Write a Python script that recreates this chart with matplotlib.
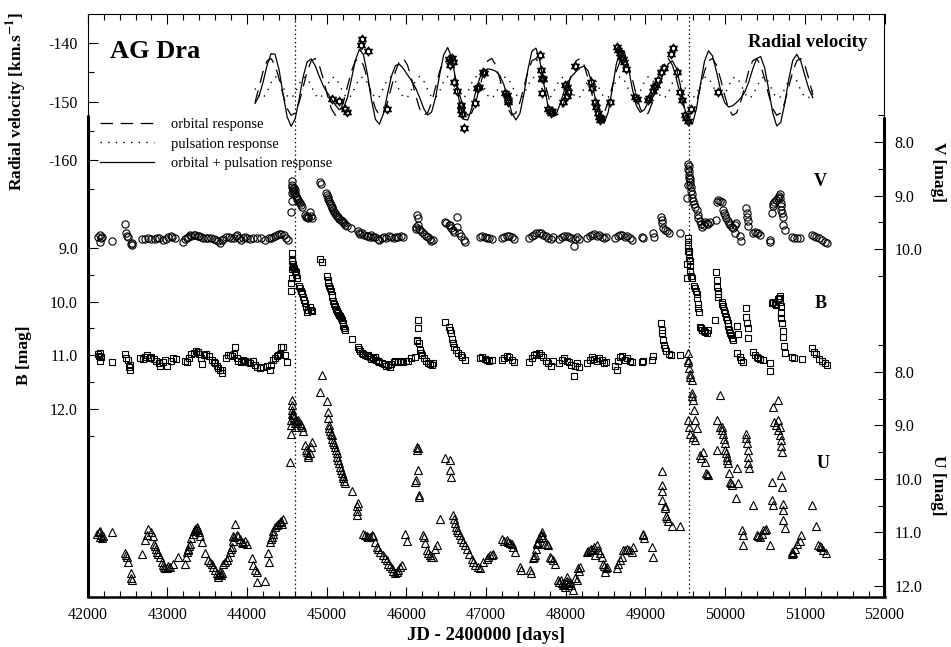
import matplotlib
matplotlib.use("Agg")
import matplotlib.pyplot as plt
from matplotlib.path import Path
from matplotlib.ticker import FixedLocator, FormatStrFormatter, MultipleLocator

plt.rcParams['font.family'] = ['Liberation Serif', 'DejaVu Serif']
plt.rcParams['mathtext.fontset'] = 'stix'
plt.rcParams['axes.unicode_minus'] = False
plt.rcParams['lines.scale_dashes'] = False

# ---------------- data ----------------
outburst_jd = [44600, 49550]

rv_model_jd = [44100.0, 44150.4, 44200.7, 44251.1, 44301.5, 44351.8, 44402.2, 44452.5, 44502.9, 44553.3,
               44603.6, 44654.0, 44704.4, 44754.7, 44805.1, 44855.5, 44905.8, 44956.2, 45006.5, 45056.9,
               45107.3, 45157.6, 45208.0, 45258.4, 45308.7, 45359.1, 45409.5, 45459.8, 45510.2, 45560.5,
               45610.9, 45661.3, 45711.6, 45762.0, 45812.4, 45862.7, 45913.1, 45963.5, 46013.8, 46064.2,
               46114.5, 46164.9, 46215.3, 46265.6, 46316.0, 46366.4, 46416.7, 46467.1, 46517.5, 46567.8,
               46618.2, 46668.5, 46718.9, 46769.3, 46819.6, 46870.0, 46920.4, 46970.7, 47021.1, 47071.5,
               47121.8, 47172.2, 47222.5, 47272.9, 47323.3, 47373.6, 47424.0, 47474.4, 47524.7, 47575.1,
               47625.5, 47675.8, 47726.2, 47776.5, 47826.9, 47877.3, 47927.6, 47978.0, 48028.4, 48078.7,
               48129.1, 48179.5, 48229.8, 48280.2, 48330.5, 48380.9, 48431.3, 48481.6, 48532.0, 48582.4,
               48632.7, 48683.1, 48733.5, 48783.8, 48834.2, 48884.5, 48934.9, 48985.3, 49035.6, 49086.0,
               49136.4, 49186.7, 49237.1, 49287.5, 49337.8, 49388.2, 49438.5, 49488.9, 49539.3, 49589.6,
               49640.0, 49690.4, 49740.7, 49791.1, 49841.5, 49891.8, 49942.2, 49992.5, 50042.9, 50093.3,
               50143.6, 50194.0, 50244.4, 50294.7, 50345.1, 50395.5, 50445.8, 50496.2, 50546.5, 50596.9,
               50647.3, 50697.6, 50748.0, 50798.4, 50848.7, 50899.1, 50949.5, 50999.8, 51050.2, 51100.5]

rv_orbital = [-150.15, -147.51, -144.86, -143.05, -142.65, -143.79, -146.11, -148.87, -151.20, -152.35, -151.96,
              -150.15, -147.51, -144.86, -143.05, -142.65, -143.79, -146.11, -148.87, -151.20, -152.35, -151.96,
              -150.15, -147.51, -144.86, -143.05, -142.65, -143.79, -146.11, -148.87, -151.20, -152.35, -151.96,
              -150.15, -147.51, -144.86, -143.05, -142.65, -143.79, -146.11, -148.87, -151.20, -152.35, -151.96,
              -150.15, -147.51, -144.86, -143.05, -142.65, -143.79, -146.11, -148.87, -151.20, -152.35, -151.96,
              -150.15, -147.51, -144.86, -143.05, -142.65, -143.79, -146.11, -148.87, -151.20, -152.35, -151.96,
              -150.15, -147.51, -144.86, -143.05, -142.65, -143.79, -146.11, -148.87, -151.20, -152.35, -151.96,
              -150.15, -147.51, -144.86, -143.05, -142.65, -143.79, -146.11, -148.87, -151.20, -152.35, -151.96,
              -150.15, -147.51, -144.86, -143.05, -142.65, -143.79, -146.11, -148.87, -151.20, -152.35, -151.96,
              -150.15, -147.51, -144.86, -143.05, -142.65, -143.79, -146.11, -148.87, -151.20, -152.35, -151.96,
              -150.15, -147.51, -144.86, -143.05, -142.65, -143.79, -146.11, -148.87, -151.20, -152.35, -151.96,
              -150.15, -147.51, -144.86, -143.05, -142.65, -143.79, -146.11, -148.87, -151.20, -152.35, -151.96,
              -150.15, -147.51, -144.86, -143.05, -142.65, -143.79, -146.11, -148.87]

rv_pulsation = [-147.77, -149.16, -149.43, -148.37, -146.75, -145.75, -146.09, -147.52, -149.01, -149.48,
                -148.59, -146.98, -145.82, -145.95, -147.27, -148.83, -149.50, -148.79, -147.22, -145.92,
                -145.84, -147.03, -148.63, -149.49, -148.97, -147.46, -146.05, -145.76, -146.80, -148.42,
                -149.44, -149.13, -147.71, -146.21, -145.72, -146.59, -148.19, -149.37, -149.26, -147.96,
                -146.39, -145.70, -146.39, -147.95, -149.26, -149.37, -148.20, -146.59, -145.72, -146.21,
                -147.71, -149.13, -149.44, -148.42, -146.81, -145.76, -146.05, -147.46, -148.97, -149.49,
                -148.64, -147.04, -145.84, -145.92, -147.21, -148.79, -149.50, -148.84, -147.28, -145.95,
                -145.82, -146.98, -148.58, -149.48, -149.01, -147.52, -146.09, -145.75, -146.75, -148.36,
                -149.43, -149.17, -147.77, -146.25, -145.71, -146.54, -148.13, -149.34, -149.29, -148.02,
                -146.44, -145.70, -146.34, -147.89, -149.23, -149.39, -148.25, -146.64, -145.73, -146.17,
                -147.65, -149.09, -149.46, -148.48, -146.86, -145.78, -146.02, -147.40, -148.93, -149.49,
                -148.69, -147.10, -145.87, -145.89, -147.15, -148.74, -149.50, -148.88, -147.34, -145.98,
                -145.80, -146.92, -148.53, -149.47, -149.05, -147.58, -146.13, -145.74, -146.69, -148.31,
                -149.41, -149.20, -147.83, -146.30, -145.70, -146.49, -148.07, -149.32, -149.32, -148.07]

rv_total = [-150.32, -149.07, -146.69, -143.82, -141.80, -141.94, -144.60, -148.79, -152.61, -154.23,
            -152.95, -149.53, -145.73, -143.21, -142.72, -143.88, -145.69, -147.30, -148.49, -149.52,
            -150.59, -151.39, -151.18, -149.40, -146.23, -142.91, -141.10, -141.95, -145.31, -149.69,
            -153.04, -153.88, -152.07, -148.76, -145.63, -143.85, -143.64, -144.42, -145.45, -146.47,
            -147.66, -149.30, -151.14, -152.31, -151.81, -149.28, -145.46, -142.04, -140.77, -142.40,
            -146.22, -150.40, -153.04, -153.17, -151.17, -148.31, -145.96, -144.72, -144.42, -144.54,
            -144.83, -145.55, -147.11, -149.52, -151.96, -153.15, -152.05, -148.75, -144.54, -141.40,
            -140.87, -143.17, -147.09, -150.75, -152.61, -152.27, -150.45, -148.30, -146.66, -145.62,
            -144.88, -144.22, -143.96, -144.76, -146.98, -150.14, -152.88, -153.70, -151.84, -147.93,
            -143.70, -141.15, -141.39, -144.08, -147.74, -150.66, -151.85, -151.39, -150.09, -148.72,
            -147.56, -146.35, -144.91, -143.53, -143.05, -144.29, -147.29, -151.00, -153.68, -153.85,
            -151.24, -147.01, -143.13, -141.34, -142.20, -144.93, -148.01, -150.15, -150.94, -150.73,
            -150.16, -149.47, -148.44, -146.73, -144.50, -142.63, -142.32, -144.25, -147.96, -151.91,
            -154.16, -153.56, -150.38, -146.21, -142.96, -141.94, -143.12, -145.51, -147.83, -149.34]

RV_OBS = [(45069, -149.6), (45157, -149.9), (45228, -151.2), (45250, -151.8),
          (45426, -140.3), (45438, -139.3), (45521, -141.3), (45752, -151.3),
          (46533, -142.8), (46545, -143.8), (46567, -142.6), (46587, -143.2), (46600, -146.6), (46630, -148.2),
          (46684, -150.6), (46688, -151.5), (46692, -152.1), (46720, -154.6),
          (46859, -150.2), (46880, -147.7), (46910, -147.5), (46964, -144.9), (46976, -145.2),
          (47236, -148.6), (47257, -148.9), (47270, -150.0), (47277, -149.7),
          (47675, -142.1), (47688, -144.6), (47704, -146.0), (47716, -146.2), (47697, -148.5),
          (47771, -151.3), (47800, -151.7), (47821, -151.6), (47810, -152.0),
          (47968, -150.0), (47989, -147.2), (48010, -147.5), (48030, -148.3), (48020, -149.0),
          (48114, -143.9), (48315, -146.6), (48331, -147.7), (48365, -150.0), (48385, -151.0),
          (48405, -152.0), (48420, -152.6), (48435, -153.2), (48445, -152.9), (48553, -150.0),
          (48637, -140.6), (48660, -141.2), (48675, -141.7), (48695, -142.4), (48715, -142.8),
          (48735, -143.3), (48760, -144.5), (48867, -149.2), (48888, -149.6),
          (49026, -149.7), (49045, -149.4), (49090, -148.2), (49110, -147.6), (49130, -147.2),
          (49160, -146.3), (49195, -144.9), (49235, -144.2), (49319, -141.8), (49348, -140.9),
          (49390, -144.9), (49431, -148.3), (49453, -149.7), (49494, -152.3), (49515, -152.9),
          (49535, -153.3), (49570, -151.2), (49912, -148.3)]

V_OBS = [(42130, 9.78), (42150, 9.74), (42160, 9.86), (42170, 9.80), (42180, 9.77), (42300, 9.85),
         (42470, 9.53), (42475, 9.70), (42490, 9.75), (42510, 9.78), (42545, 9.90), (42550, 9.92), (42555, 9.88),
         (42680, 9.82), (42720, 9.81), (42760, 9.80), (42800, 9.82), (42840, 9.81), (42870, 9.79), (42900, 9.80),
         (42940, 9.83), (42980, 9.81), (43010, 9.78), (43040, 9.76), (43060, 9.78), (43100, 9.80), (43200, 9.87),
         (43220, 9.82), (43240, 9.80), (43260, 9.77), (43280, 9.74), (43300, 9.75), (43330, 9.73), (43350, 9.74),
         (43380, 9.76), (43400, 9.75), (43420, 9.78), (43450, 9.80), (43480, 9.79), (43510, 9.80), (43550, 9.79),
         (43580, 9.81), (43610, 9.83), (43640, 9.85), (43660, 9.88), (43680, 9.84), (43700, 9.81), (43740, 9.78),
         (43770, 9.77), (43800, 9.80), (43830, 9.79), (43860, 9.76), (43880, 9.74), (43900, 9.79), (43920, 9.83),
         (43950, 9.80), (43980, 9.77), (44000, 9.79), (44040, 9.82), (44080, 9.80), (44130, 9.79), (44180, 9.80),
         (44230, 9.83), (44270, 9.80), (44300, 9.79), (44320, 9.77), (44350, 9.75), (44380, 9.73), (44400, 9.72),
         (44430, 9.72), (44460, 9.73), (44490, 9.80), (44510, 9.84),
         (44555, 9.30), (44558, 9.10), (44560, 8.95), (44562, 8.85), (44565, 8.72), (44570, 8.80), (44575, 8.88),
         (44580, 8.92), (44585, 8.98), (44590, 8.86), (44600, 8.90), (44605, 8.96), (44612, 9.00), (44622, 9.05),
         (44632, 9.06), (44643, 9.09), (44655, 9.12), (44664, 9.14), (44675, 9.18), (44685, 9.21), (44726, 9.36),
         (44740, 9.40), (44747, 9.38), (44760, 9.42), (44768, 9.40), (44789, 9.30), (44800, 9.38), (44810, 9.42),
         (44915, 8.74), (44925, 8.78),
         (44990, 8.95), (45000, 8.99), (45010, 9.03), (45020, 9.06), (45030, 9.10), (45040, 9.14), (45050, 9.18),
         (45060, 9.21), (45070, 9.24), (45080, 9.27), (45090, 9.30), (45100, 9.33), (45115, 9.36), (45130, 9.39),
         (45145, 9.41), (45160, 9.44), (45175, 9.46), (45190, 9.48), (45205, 9.50), (45220, 9.52), (45235, 9.55),
         (45250, 9.57), (45310, 9.60),
         (45390, 9.66), (45400, 9.70), (45420, 9.72), (45440, 9.70), (45470, 9.74), (45500, 9.76), (45520, 9.75),
         (45545, 9.78), (45560, 9.74), (45580, 9.77), (45610, 9.78), (45640, 9.82), (45660, 9.83), (45690, 9.80),
         (45720, 9.78), (45750, 9.79), (45780, 9.76), (45810, 9.77), (45840, 9.80), (45870, 9.78), (45900, 9.77),
         (45930, 9.76), (45960, 9.78),
         (46115, 9.62), (46125, 9.58), (46130, 9.36), (46140, 9.42), (46150, 9.55), (46160, 9.62), (46175, 9.65),
         (46195, 9.68), (46215, 9.72), (46240, 9.76), (46265, 9.78), (46290, 9.82), (46310, 9.85), (46330, 9.83),
         (46483, 9.49), (46500, 9.52), (46530, 9.56), (46545, 9.55), (46560, 9.60), (46580, 9.64), (46600, 9.68),
         (46630, 9.40), (46640, 9.58), (46660, 9.70), (46690, 9.76), (46720, 9.83), (46740, 9.86),
         (46920, 9.78), (46950, 9.76), (46980, 9.77), (47010, 9.79), (47040, 9.80), (47070, 9.82),
         (47200, 9.80), (47230, 9.77), (47260, 9.76), (47290, 9.75), (47320, 9.78), (47350, 9.82),
         (47540, 9.80), (47570, 9.76), (47600, 9.73), (47630, 9.71), (47660, 9.70), (47690, 9.71), (47720, 9.73),
         (47750, 9.76), (47780, 9.79), (47810, 9.81), (47840, 9.78),
         (47920, 9.82), (47950, 9.78), (47980, 9.76), (48010, 9.75), (48040, 9.78), (48070, 9.80), (48100, 9.95),
         (48110, 9.82), (48140, 9.78), (48170, 9.82),
         (48270, 9.80), (48300, 9.76), (48330, 9.74), (48360, 9.72), (48390, 9.75), (48420, 9.74), (48450, 9.77),
         (48480, 9.80), (48510, 9.78),
         (48620, 9.80), (48650, 9.76), (48680, 9.73), (48710, 9.74), (48740, 9.78), (48770, 9.76), (48800, 9.80),
         (48830, 9.84), (48960, 9.78), (48975, 9.80), (49100, 9.70), (49110, 9.78),
         (49200, 9.40), (49205, 9.46), (49210, 9.52), (49220, 9.60), (49240, 9.64), (49265, 9.67), (49290, 9.70),
         (49430, 9.70),
         (49525, 9.05), (49530, 8.80), (49535, 8.50), (49538, 8.42), (49542, 8.45), (49545, 8.55), (49548, 8.62),
         (49550, 8.68), (49555, 8.75), (49560, 8.80), (49565, 8.70), (49570, 8.85), (49575, 8.92), (49580, 8.98),
         (49590, 9.05), (49600, 9.10),
         (49610, 9.15), (49625, 9.22), (49641, 9.28), (49655, 9.36), (49662, 9.42), (49680, 9.48), (49700, 9.53),
         (49715, 9.58), (49730, 9.55), (49746, 9.50), (49770, 9.52), (49790, 9.53), (49809, 9.50),
         (49892, 9.13), (49913, 9.08), (49935, 9.10), (49955, 9.12), (49880, 9.46),
         (49976, 9.27), (49990, 9.32), (50000, 9.37), (50015, 9.42), (50030, 9.47), (50045, 9.52), (50060, 9.56),
         (50080, 9.58), (50100, 9.60), (50120, 9.55), (50140, 9.52), (50130, 9.70), (50186, 9.75), (50200, 9.85),
         (50260, 9.24), (50270, 9.32), (50278, 9.40), (50285, 9.48), (50290, 9.57),
         (50352, 9.71), (50370, 9.69), (50395, 9.70), (50415, 9.71), (50440, 9.73), (50560, 9.86), (50565, 9.83),
         (50582, 9.33), (50595, 9.20), (50603, 9.16), (50615, 9.13), (50640, 9.08), (50660, 9.04), (50670, 9.00),
         (50685, 8.98), (50690, 9.05), (50695, 9.14), (50700, 9.20), (50707, 9.27), (50712, 9.33), (50720, 9.40),
         (50730, 9.55), (50745, 9.64),
         (50833, 9.77), (50860, 9.79), (50900, 9.79), (50935, 9.80),
         (51084, 9.74), (51110, 9.75), (51140, 9.77), (51175, 9.80), (51220, 9.83), (51255, 9.86), (51275, 9.89)]

B_OBS = [(42130, 10.98), (42140, 11.02), (42150, 10.96), (42160, 11.10), (42170, 11.03), (42300, 11.12),
         (42470, 10.98), (42480, 11.05), (42500, 11.08), (42520, 11.22), (42530, 11.27), (42535, 11.18),
         (42660, 11.05), (42690, 11.06), (42720, 11.04), (42750, 11.00), (42780, 11.05), (42800, 11.04),
         (42830, 11.06), (42860, 11.10), (42890, 11.14), (42910, 11.20), (42940, 11.12), (42970, 11.08),
         (43000, 11.20), (43040, 11.10), (43070, 11.05), (43110, 11.06),
         (43220, 11.10), (43245, 11.12), (43270, 11.05), (43300, 10.97), (43330, 10.95), (43355, 10.92),
         (43380, 10.94), (43400, 10.98), (43420, 11.05), (43440, 11.16), (43460, 10.99), (43490, 10.98),
         (43520, 11.02), (43560, 11.08), (43580, 11.12), (43600, 11.15), (43620, 11.20), (43640, 11.24),
         (43660, 11.28), (43680, 11.32), (43690, 11.27),
         (43730, 11.05), (43760, 11.00), (43785, 10.99), (43810, 11.02), (43830, 10.98), (43848, 10.84),
         (43870, 11.05), (43890, 11.10), (43920, 11.12), (43950, 11.08), (43980, 11.10), (44010, 11.12),
         (44040, 11.15), (44073, 11.11), (44100, 11.18), (44130, 11.22), (44160, 11.24), (44200, 11.22),
         (44246, 11.20), (44288, 11.28), (44300, 11.18),
         (44327, 11.08), (44350, 11.05), (44370, 11.02), (44390, 10.99), (44410, 10.97), (44432, 10.84),
         (44453, 10.84), (44470, 11.00), (44495, 11.12),
         (44552, 9.80), (44555, 9.65), (44558, 9.55), (44560, 9.40), (44562, 9.22), (44565, 9.10), (44570, 9.25),
         (44575, 9.30), (44580, 9.36), (44590, 9.38), (44600, 9.42), (44610, 9.45), (44620, 9.50), (44630, 9.55),
         (44655, 9.70), (44664, 9.74), (44675, 9.80), (44685, 9.84), (44700, 9.92), (44715, 9.96), (44726, 10.02),
         (44740, 10.10), (44747, 10.20), (44760, 10.16), (44789, 10.10), (44800, 10.15), (44810, 10.18),
         (44915, 9.20), (44935, 9.26),
         (44999, 9.53), (45010, 9.60), (45020, 9.66), (45030, 9.70), (45041, 9.75), (45050, 9.80), (45062, 9.87),
         (45070, 9.92), (45083, 9.99), (45095, 10.04), (45104, 10.08), (45115, 10.13), (45125, 10.18),
         (45140, 10.22), (45155, 10.25), (45166, 10.27), (45180, 10.31), (45187, 10.34), (45200, 10.40),
         (45208, 10.45), (45220, 10.50), (45229, 10.53), (45313, 10.70),
         (45396, 10.84), (45410, 10.88), (45420, 10.92), (45440, 10.96), (45460, 10.98), (45480, 11.00),
         (45500, 11.02), (45520, 11.00), (45540, 11.04), (45560, 11.06), (45580, 11.05), (45600, 11.03),
         (45620, 11.08), (45640, 11.10), (45660, 11.12), (45690, 11.15), (45720, 11.17), (45750, 11.20),
         (45768, 11.18), (45790, 11.22), (45810, 11.16), (45840, 11.12), (45860, 11.10), (45900, 11.12),
         (45930, 11.10), (45960, 11.12), (45990, 11.11), (46019, 11.10), (46060, 11.05), (46103, 11.03),
         (46130, 10.74), (46138, 10.72), (46145, 10.34), (46150, 10.49), (46160, 10.77), (46175, 10.90),
         (46185, 10.96), (46200, 10.99), (46225, 11.05), (46250, 11.10), (46275, 11.14), (46300, 11.17),
         (46320, 11.18), (46336, 11.15),
         (46483, 10.37), (46530, 10.48), (46546, 10.52), (46556, 10.58), (46570, 10.70), (46585, 10.77),
         (46600, 10.84), (46620, 10.90), (46650, 10.96), (46680, 11.00), (46700, 11.04), (46734, 11.09),
         (46920, 11.05), (46950, 11.04), (46980, 11.06), (47010, 11.08), (47040, 11.10), (47070, 11.08),
         (47200, 11.08), (47230, 11.05), (47260, 11.02), (47290, 11.04), (47320, 11.08), (47350, 11.12),
         (47540, 11.12), (47570, 11.05), (47600, 11.00), (47630, 10.97), (47660, 10.96), (47690, 10.99),
         (47720, 11.04), (47750, 11.10), (47780, 11.15), (47810, 11.20), (47840, 11.10),
         (47920, 11.15), (47950, 11.08), (47980, 11.05), (48010, 11.10), (48040, 11.12), (48070, 11.18),
         (48100, 11.38), (48110, 11.20), (48140, 11.15), (48170, 11.22),
         (48270, 11.15), (48300, 11.08), (48330, 11.04), (48360, 11.06), (48390, 11.10), (48420, 11.05),
         (48450, 11.08), (48480, 11.15), (48510, 11.12),
         (48620, 11.20), (48640, 11.27), (48650, 11.10), (48680, 11.04), (48710, 11.02), (48740, 11.08),
         (48770, 11.05), (48800, 11.10), (48830, 11.12), (48960, 11.12), (48975, 11.10), (49080, 11.08),
         (49100, 11.02),
         (49200, 10.40), (49202, 10.52), (49205, 10.58), (49215, 10.72), (49230, 10.80), (49245, 10.86),
         (49260, 10.92), (49290, 10.98), (49320, 11.00), (49432, 10.99),
         (49516, 9.55), (49525, 9.30), (49530, 9.05), (49535, 8.82), (49538, 8.88), (49540, 8.97), (49545, 9.06),
         (49548, 9.12), (49550, 9.19), (49555, 9.25), (49558, 9.34), (49565, 9.43), (49575, 9.52), (49580, 9.55),
         (49610, 9.70), (49620, 9.74), (49630, 9.80), (49641, 9.86), (49650, 9.93), (49655, 10.05), (49662, 10.12),
         (49668, 10.20),
         (49683, 10.47), (49700, 10.50), (49715, 10.53), (49730, 10.55), (49750, 10.56), (49767, 10.58),
         (49780, 10.52), (49871, 10.34),
         (49890, 9.44), (49895, 9.60), (49900, 9.72), (49905, 9.80), (49910, 9.85), (49915, 9.91),
         (49955, 10.00), (49965, 10.05), (49976, 10.09), (49985, 10.15), (49997, 10.21), (50008, 10.28),
         (50018, 10.34), (50030, 10.40), (50039, 10.46), (50050, 10.52), (50060, 10.58), (50070, 10.62),
         (50080, 10.68), (50100, 10.71), (50143, 10.46), (50160, 10.60),
         (50145, 10.96), (50185, 11.03), (50205, 11.08), (50225, 11.12),
         (50260, 10.12), (50268, 10.28), (50278, 10.40), (50283, 10.49), (50292, 10.68),
         (50352, 10.94), (50370, 11.00), (50395, 11.03), (50415, 11.05), (50440, 11.06), (50470, 11.08),
         (50560, 11.15), (50565, 11.30),
         (50582, 10.03), (50600, 10.00), (50620, 10.04), (50640, 10.06), (50660, 9.95), (50670, 9.93),
         (50685, 9.90), (50690, 10.00), (50695, 10.09), (50700, 10.21), (50706, 10.30), (50710, 10.40),
         (50720, 10.55), (50728, 10.65), (50735, 10.83), (50745, 10.96),
         (50833, 11.03), (50870, 11.05), (50960, 11.06),
         (51084, 10.87), (51110, 10.94), (51140, 10.98), (51175, 11.06), (51220, 11.10), (51250, 11.14),
         (51275, 11.18)]

U_OBS = [(42120, 11.03), (42140, 11.00), (42150, 11.08), (42160, 10.97), (42170, 11.05), (42180, 11.10),
         (42190, 11.07), (42300, 11.00),
         (42470, 11.38), (42480, 11.42), (42490, 11.45), (42500, 11.56), (42540, 11.76), (42545, 11.85),
         (42550, 11.89), (42680, 11.40),
         (42719, 11.14), (42740, 11.05), (42761, 10.93), (42790, 11.00), (42815, 11.06), (42832, 11.21),
         (42845, 11.25), (42857, 11.31), (42870, 11.36), (42886, 11.40), (42907, 11.46), (42928, 11.55),
         (42945, 11.60), (42957, 11.64), (42975, 11.66), (42991, 11.67), (43010, 11.62), (43033, 11.64),
         (43074, 11.58), (43137, 11.46),
         (43221, 11.58), (43235, 11.45), (43242, 11.36), (43255, 11.33), (43263, 11.31), (43275, 11.25),
         (43284, 11.21), (43300, 11.10), (43325, 11.03), (43335, 10.98), (43346, 10.93), (43355, 10.95),
         (43367, 10.90), (43378, 10.92), (43388, 10.96), (43398, 11.00), (43409, 11.06), (43430, 11.18),
         (43472, 11.39), (43514, 11.52), (43540, 11.55), (43556, 11.58), (43577, 11.64), (43600, 11.70),
         (43619, 11.76), (43630, 11.80), (43640, 11.83), (43650, 11.78), (43660, 11.73), (43670, 11.80),
         (43681, 11.76),
         (43702, 11.58), (43725, 11.55), (43744, 11.52), (43765, 11.45), (43786, 11.36), (43795, 11.30),
         (43807, 11.27), (43818, 11.15), (43828, 11.06), (43838, 11.08), (43849, 10.84), (43870, 11.05),
         (43891, 11.06), (43910, 11.12), (43932, 11.18), (43950, 11.20), (43974, 11.15), (43995, 11.21),
         (44058, 11.48), (44079, 11.61), (44100, 11.70), (44121, 11.73), (44130, 11.93), (44223, 11.91),
         (44266, 11.39), (44270, 11.55), (44290, 11.18), (44300, 11.12), (44310, 11.09), (44320, 11.03),
         (44330, 10.98), (44350, 10.90), (44370, 10.86), (44390, 10.84), (44410, 10.80), (44430, 10.78),
         (44440, 10.84), (44453, 10.74),
         (44545, 9.68), (44550, 9.15), (44552, 9.00), (44555, 8.90), (44558, 8.78), (44560, 8.52), (44565, 8.62),
         (44570, 8.71), (44575, 8.80), (44580, 8.78), (44590, 8.85), (44600, 8.90), (44605, 8.95), (44612, 9.02),
         (44630, 8.92), (44643, 8.90), (44660, 8.96), (44675, 9.00), (44685, 9.02), (44700, 9.10), (44726, 9.37),
         (44740, 9.45), (44747, 9.49), (44760, 9.55), (44768, 9.58), (44789, 9.52), (44800, 9.40), (44810, 9.30),
         (44915, 8.37), (44936, 8.06), (44999, 8.55), (45010, 8.74), (45015, 8.86), (45025, 9.00),
         (45030, 9.05), (45040, 9.10), (45050, 9.15), (45061, 9.18), (45070, 9.25), (45082, 9.30), (45092, 9.35),
         (45103, 9.40), (45113, 9.46), (45124, 9.52), (45135, 9.58), (45145, 9.64), (45155, 9.70), (45166, 9.77),
         (45175, 9.83), (45187, 9.89), (45198, 9.94), (45208, 9.98), (45218, 10.03), (45229, 10.08),
         (45312, 10.23), (45375, 10.51), (45385, 10.60), (45380, 10.67), (45396, 10.45),
         (45458, 11.02), (45480, 11.04), (45500, 11.06), (45520, 11.08), (45542, 11.09), (45565, 11.05),
         (45584, 11.06), (45604, 11.18), (45625, 11.27), (45645, 11.30), (45667, 11.36), (45700, 11.42),
         (45730, 11.48), (45751, 11.52), (45772, 11.58), (45790, 11.62), (45814, 11.67), (45835, 11.72),
         (45856, 11.76), (45878, 11.74), (45898, 11.70), (45920, 11.65), (45939, 11.61),
         (45981, 11.02), (46002, 11.15),
         (46107, 10.05), (46115, 10.02), (46128, 9.40), (46132, 9.46), (46140, 9.43), (46150, 9.83),
         (46157, 10.30), (46162, 10.33),
         (46211, 11.05), (46220, 11.08), (46232, 11.20), (46253, 11.33), (46270, 11.38), (46295, 11.42),
         (46310, 11.45), (46336, 11.46), (46360, 11.30), (46378, 11.24), (46420, 10.74),
         (46483, 9.61), (46546, 9.64), (46550, 9.83), (46555, 9.96),
         (46588, 10.67), (46600, 10.75), (46609, 10.83), (46620, 10.90), (46630, 10.96), (46650, 11.00),
         (46672, 11.05), (46690, 11.12), (46714, 11.18), (46735, 11.24), (46756, 11.30), (46790, 11.40),
         (46818, 11.49), (46840, 11.56), (46860, 11.61),
         (46900, 11.65), (46922, 11.67), (46960, 11.55), (47006, 11.49), (47030, 11.45), (47048, 11.43),
         (47070, 11.42), (47089, 11.40),
         (47194, 11.13), (47230, 11.15), (47260, 11.14), (47278, 11.17), (47300, 11.20), (47320, 11.21),
         (47340, 11.28), (47362, 11.36), (47424, 11.64), (47440, 11.70), (47545, 11.70), (47560, 11.76),
         (47591, 11.48), (47600, 11.45), (47612, 11.42), (47620, 11.30), (47633, 11.21), (47645, 11.20),
         (47654, 11.18), (47670, 11.10), (47685, 11.05), (47696, 10.99), (47705, 11.05), (47717, 11.09),
         (47738, 11.21), (47760, 11.22), (47780, 11.24), (47800, 11.45), (47820, 11.48), (47842, 11.52),
         (47863, 11.58),
         (47905, 11.89), (47920, 11.92), (47935, 11.88), (47947, 11.95), (47960, 11.98), (47975, 11.96),
         (47989, 12.01), (48000, 11.93), (48010, 11.83), (48020, 11.90), (48030, 11.98), (48040, 11.95),
         (48051, 11.92), (48070, 11.98), (48093, 12.07), (48120, 11.85), (48135, 11.89), (48156, 11.67),
         (48170, 11.72), (48177, 11.64),
         (48261, 11.36), (48280, 11.34), (48303, 11.33), (48320, 11.30), (48344, 11.30), (48355, 11.28),
         (48365, 11.42), (48386, 11.24), (48400, 11.32), (48428, 11.39), (48450, 11.45), (48470, 11.58),
         (48480, 11.62), (48491, 11.73), (48500, 11.66), (48512, 11.64),
         (48637, 11.67), (48658, 11.58), (48679, 11.52), (48700, 11.45), (48721, 11.33), (48740, 11.32),
         (48763, 11.30), (48790, 11.33), (48826, 11.36), (48846, 11.27),
         (48965, 11.03), (48971, 11.05), (48985, 11.11), (49076, 11.27), (49097, 11.45),
         (49202, 9.86), (49204, 10.11), (49208, 10.23), (49210, 10.39), (49244, 10.51), (49250, 10.55),
         (49255, 10.69), (49265, 10.72), (49286, 10.79), (49328, 10.88), (49432, 10.88),
         (49530, 7.78), (49536, 7.65), (49540, 7.81), (49545, 7.92), (49557, 8.03), (49565, 8.10), (49578, 8.15),
         (49580, 8.40), (49590, 8.45), (49599, 8.52), (49605, 8.71), (49620, 8.90), (49641, 9.05),
         (49536, 8.90), (49550, 9.02), (49557, 9.15), (49599, 9.21), (49620, 9.27),
         (49683, 9.55), (49700, 9.60), (49724, 9.49), (49745, 9.68), (49766, 9.89), (49775, 9.91), (49787, 9.93),
         (49892, 9.46), (49892, 8.90), (49934, 8.43), (49940, 9.02),
         (49955, 9.02), (49965, 9.08), (49976, 9.15), (49985, 9.25), (49997, 9.33), (50000, 9.46), (50010, 9.52),
         (50018, 9.58), (50028, 9.65), (50039, 9.71), (50051, 9.89), (50060, 10.05), (50070, 10.08), (50080, 10.11),
         (50143, 9.80), (50160, 10.08), (50135, 10.36), (50206, 10.95), (50225, 11.05), (50228, 11.24),
         (50260, 9.15), (50265, 9.24), (50280, 9.33), (50288, 9.46), (50282, 9.58), (50284, 9.71), (50300, 9.80),
         (50352, 10.49), (50394, 11.05), (50410, 11.07), (50436, 11.09), (50460, 11.02), (50478, 10.96),
         (50500, 10.95), (50519, 10.93), (50561, 11.24),
         (50582, 10.05), (50590, 10.39), (50603, 10.49), (50603, 8.65), (50665, 8.52), (50668, 8.90), (50686, 9.02),
         (50610, 8.93), (50640, 8.99), (50665, 9.08), (50686, 9.18), (50700, 9.27), (50705, 9.39), (50708, 9.49),
         (50707, 9.93), (50715, 10.15), (50720, 10.46), (50725, 10.58), (50728, 10.77), (50745, 10.92),
         (50833, 11.36), (50845, 11.40), (50854, 11.39), (50875, 11.30), (50900, 11.22), (50937, 11.15),
         (50958, 11.05),
         (51096, 10.49), (51138, 10.88), (51167, 11.24), (51190, 11.25), (51209, 11.27), (51230, 11.33),
         (51272, 11.39)]

rv_ticks = [-140, -150, -160]
b_ticks = [9.0, 10.0, 11.0, 12.0]
v_ticks = [8.0, 9.0, 10.0]
u_ticks = [8.0, 9.0, 10.0, 11.0, 12.0]

# ---------------- figure ----------------
W, H = 951, 647
fig = plt.figure(figsize=(W / 100, H / 100), dpi=100)
left_px, right_px, top_px, bot_px = 87.7, 884.5, 14, 597
rect = [left_px / W, 1 - bot_px / H, (right_px - left_px) / W, (bot_px - top_px) / H]

ax = fig.add_axes(rect)                        # B magnitudes (left)
ax_rv = fig.add_axes(rect, sharex=ax, label='rv')
ax_v = fig.add_axes(rect, sharex=ax, label='v')
ax_u = fig.add_axes(rect, sharex=ax, label='u')

ax.set_xlim(42000, 52000)
ax.set_ylim(15.503, 4.640)
ax_rv.set_ylim(-234.70, -135.04)
ax_v.set_ylim(16.505, 5.607)
ax_u.set_ylim(12.206, 1.308)

TL = 11.5
for a in (ax_rv, ax_v, ax_u):
    a.patch.set_visible(False)
    for s in a.spines.values():
        s.set_visible(False)
    a.tick_params(axis='x', which='both', bottom=False, top=False, labelbottom=False, labeltop=False)

# main axis frame
for s in ax.spines.values():
    s.set_linewidth(0.8)
ax.spines['bottom'].set_linewidth(1.8)
ax.plot([0, 0], [0, 0.827], transform=ax.transAxes, color='k', lw=2.2, clip_on=False,
        solid_capstyle='butt', zorder=5)
ax.plot([1, 1], [0, 0.823], transform=ax.transAxes, color='k', lw=2.2, clip_on=False,
        solid_capstyle='butt', zorder=5)

ax.xaxis.set_major_locator(MultipleLocator(1000))
ax.xaxis.set_minor_locator(MultipleLocator(200))
ax.xaxis.set_major_formatter(FormatStrFormatter('%d'))
ax.tick_params(axis='x', which='both', direction='in', top=True, bottom=True, labelsize=TL, pad=7)
ax.tick_params(axis='x', which='major', length=7, width=0.8)
ax.tick_params(axis='x', which='minor', length=4, width=0.8)

ax.yaxis.set_major_locator(FixedLocator(b_ticks))
ax.yaxis.set_minor_locator(FixedLocator([9.5, 10.5, 11.5, 12.5]))
ax.yaxis.set_major_formatter(FormatStrFormatter('%.1f'))
ax.tick_params(axis='y', which='both', direction='in', left=True, right=False, labelsize=TL, pad=7)
ax.tick_params(axis='y', which='major', length=7, width=0.8)
ax.tick_params(axis='y', which='minor', length=4, width=0.8)

ax_rv.yaxis.set_major_locator(FixedLocator(rv_ticks))
ax_rv.yaxis.set_minor_locator(FixedLocator([-135, -145, -155, -165]))
ax_rv.yaxis.set_major_formatter(FormatStrFormatter('%d'))
ax_rv.tick_params(axis='y', which='both', direction='in', left=True, right=False,
                  labelleft=True, labelright=False, labelsize=TL, pad=7)
ax_rv.tick_params(axis='y', which='major', length=7, width=0.8)
ax_rv.tick_params(axis='y', which='minor', length=4, width=0.8)

for a, maj, mnr in ((ax_v, v_ticks, [7.5, 8.5, 9.5, 10.5]),
                    (ax_u, u_ticks, [7.5, 8.5, 9.5, 10.5, 11.5])):
    a.yaxis.set_major_locator(FixedLocator(maj))
    a.yaxis.set_minor_locator(FixedLocator(mnr))
    a.yaxis.set_major_formatter(FormatStrFormatter('%.1f'))
    a.tick_params(axis='y', which='both', direction='in', left=False, right=True,
                  labelleft=False, labelright=True, labelsize=TL, pad=7)
    a.tick_params(axis='y', which='major', length=7, width=0.8)
    a.tick_params(axis='y', which='minor', length=4, width=0.8)

# outburst markers
for jd in outburst_jd:
    ax.axvline(jd, color='k', lw=0.9, ls=(0, (1.0, 2.0)))

# model curves
l_orb, = ax_rv.plot(rv_model_jd, rv_orbital, color='k', lw=0.9, ls=(0, (9.0, 5.5)))
l_pul, = ax_rv.plot(rv_model_jd, rv_pulsation, color='k', lw=1.0, ls=(0, (1.0, 4.5)))
l_tot, = ax_rv.plot(rv_model_jd, rv_total, color='k', lw=0.9)

# radial velocity observations (hexagram markers)
hexagram = Path([(0, 1), (-0.866, -0.5), (0.866, -0.5), (0, 1),
                 (0, -1), (-0.866, 0.5), (0.866, 0.5), (0, -1)],
                [Path.MOVETO, Path.LINETO, Path.LINETO, Path.CLOSEPOLY] * 2)
rj, rv = zip(*RV_OBS)
ax_rv.plot(rj, rv, ls='none', marker=hexagram, ms=6.5, mfc='white', mec='k', mew=0.8)

vj, vm = zip(*V_OBS)
ax_v.plot(vj, vm, ls='none', marker='o', ms=5.2, mfc='none', mec='k', mew=0.8)
bj, bm = zip(*B_OBS)
ax.plot(bj, bm, ls='none', marker='s', ms=4.8, mfc='none', mec='k', mew=0.8)
uj, um = zip(*U_OBS)
ax_u.plot(uj, um, ls='none', marker='^', ms=5.6, mfc='none', mec='k', mew=0.8)

# legend
ax_rv.legend([l_orb, l_pul, l_tot],
             ['orbital response', 'pulsation response', 'orbital + pulsation response'],
             loc='upper left', bbox_to_anchor=((100 - left_px) / (right_px - left_px), (bot_px - 118) / (bot_px - top_px)),
             frameon=False, fontsize=10.5, handlelength=3.7, handletextpad=1.2, labelspacing=0.42,
             borderpad=0, borderaxespad=0)

# texts
fig.text(110 / W, 1 - 58 / H, 'AG Dra', fontsize=19, fontweight='bold', ha='left', va='baseline')
fig.text(867 / W, 1 - 47 / H, 'Radial velocity', fontsize=13.5, fontweight='bold', ha='right', va='baseline')
fig.text(820 / W, 1 - 182 / H, 'V', fontsize=13, fontweight='bold', ha='center', va='center')
fig.text(821 / W, 1 - 304 / H, 'B', fontsize=13, fontweight='bold', ha='center', va='center')
fig.text(823 / W, 1 - 464 / H, 'U', fontsize=13, fontweight='bold', ha='center', va='center')

fig.text(17 / W, 1 - 102 / H, r'Radial velocity [km.s$^{\mathbf{-1}}$]', fontsize=12.5, fontweight='bold',
         rotation=90, ha='center', va='center')
fig.text(24 / W, 1 - 355 / H, 'B [mag]', fontsize=12.5, fontweight='bold', rotation=90, ha='center', va='center')
fig.text(938 / W, 1 - 172 / H, 'V [mag]', fontsize=12.5, fontweight='bold', rotation=270, ha='center', va='center')
fig.text(938 / W, 1 - 485 / H, 'U [mag]', fontsize=12.5, fontweight='bold', rotation=270, ha='center', va='center')
fig.text((left_px + right_px) / 2 / W, 1 - 636 / H, 'JD - 2400000 [days]', fontsize=13.5, fontweight='bold',
         ha='center', va='center')

fig.savefig('out.png', dpi=100)
